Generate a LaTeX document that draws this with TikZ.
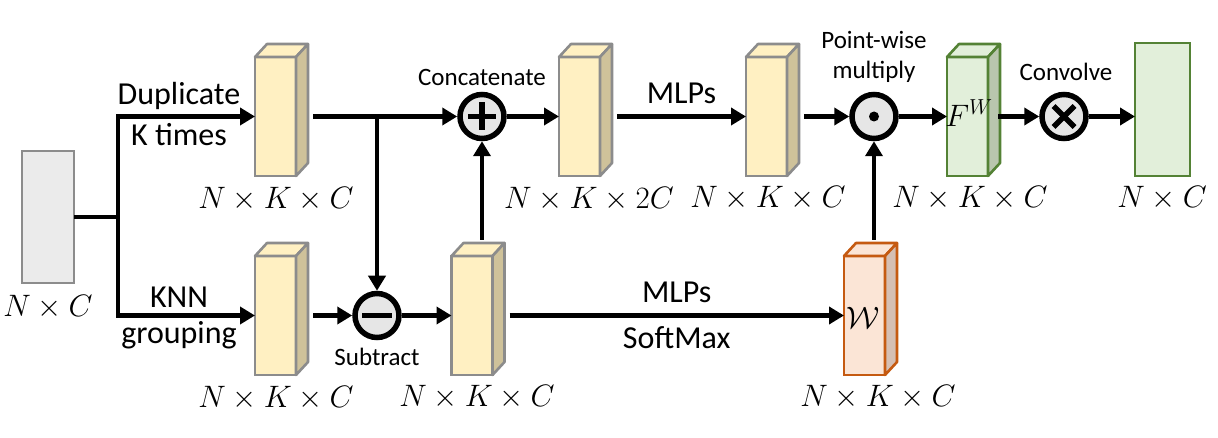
\documentclass[tikz,border=0pt]{standalone}
\usepackage{fix-cm}
\usepackage{fontspec}
\setmainfont{Carlito}
\usetikzlibrary{arrows.meta}
\definecolor{yfront}{HTML}{FFF0C2}
\definecolor{yside}{HTML}{CFC29A}
\definecolor{gstroke}{HTML}{8C8C8C}
\definecolor{infill}{HTML}{EBEBEB}
\definecolor{ofront}{HTML}{FBE5D6}
\definecolor{oside}{HTML}{D5BFB3}
\definecolor{ostroke}{HTML}{C55A11}
\definecolor{gfront}{HTML}{E2EFDA}
\definecolor{gside}{HTML}{B9C6AE}
\definecolor{grstroke}{HTML}{548235}
\definecolor{opfill}{HTML}{E6E6E6}
\tikzset{
  ln/.style={line width=4.5pt},
  arr/.style={ln,-{Triangle[length=15pt,width=17pt]}},
  face/.style={draw=#1, line width=2.6pt, minimum width=41pt, minimum height=119pt, inner sep=0pt, outer sep=0pt},
  op/.style={circle, draw=black, line width=5.5pt, fill=opfill, minimum size=44pt, inner sep=0pt},
  txt/.style={font=\fontsize{32}{38}\selectfont, inner sep=0pt},
  small/.style={font=\fontsize{25}{30}\selectfont, inner sep=0pt},
  dim/.style={font=\fontsize{31}{37}\selectfont, inner sep=0pt},
  sym/.style={line width=5.5pt},
}
\newcommand{\cuboid}[6]{%
  \node[face=#6, fill=#4] (#1) at (#2,#3) {};
  \filldraw[draw=#6, fill=#4, line width=2.6pt, line join=round] (#1.north west) -- ++(12,-13) -- ++(41,0) -- (#1.north east) -- cycle;
  \filldraw[draw=#6, fill=#5, line width=2.6pt, line join=round] (#1.north east) -- ++(12,-13) -- ++(0,119) -- (#1.south east) -- cycle;
}
\begin{document}
\begin{tikzpicture}[x=1pt,y=-1pt]
\useasboundingbox (0,0) rectangle (1218,438);
% input
\node[draw=gstroke, fill=infill, line width=2.6pt, minimum width=52pt, minimum height=132pt, inner sep=0pt, outer sep=0pt] (in) at (48,217) {};
\node[dim] (inl) at (48,307) {$N\times C$};
% cuboids
\cuboid{B1}{275.5}{116.5}{yfront}{yside}{gstroke}
\cuboid{B2}{275.5}{315.5}{yfront}{yside}{gstroke}
\cuboid{B3}{472}{315.5}{yfront}{yside}{gstroke}
\cuboid{B4}{579.5}{116.5}{yfront}{yside}{gstroke}
\cuboid{B5}{766.5}{116.5}{yfront}{yside}{gstroke}
\cuboid{BW}{864.5}{315.5}{ofront}{oside}{ostroke}
\cuboid{BF}{967.5}{116.5}{gfront}{gside}{grstroke}
\node[draw=grstroke, fill=gfront, line width=2.6pt, minimum width=55pt, minimum height=133pt, inner sep=0pt, outer sep=0pt] (fin) at (1162.5,109.5) {};
% inner labels
\node[dim] (fw) at (969,113) {$F^{W}$};
\node[dim] (ww) at (863,318) {$\mathcal{W}$};
% operators
\node[op] (cat) at (482,116.5) {};
\node[op] (sub) at (377,315.5) {};
\node[op] (mul) at (874,116.5) {};
\node[op] (conv) at (1064,116.5) {};
\draw[sym] (cat.center) ++(-14,0) -- ++(28,0);
\draw[sym] (cat.center) ++(0,-14) -- ++(0,28);
\draw[sym] (sub.center) ++(-15,0) -- ++(30,0);
\fill (mul.center) circle (5);
\draw[sym] (conv.center) ++(-10.5,-10.5) -- ++(21,21);
\draw[sym] (conv.center) ++(10.5,-10.5) -- ++(-21,21);
% connectors
\coordinate (j) at (118,217);
\draw[ln] (in.east) -- (j);
\draw[arr] (j) |- (B1.west);
\draw[arr] (j) |- (B2.west);
\coordinate (s) at (377,116.5);
\draw[arr] ([xshift=17pt]B1.east) -- (cat.west);
\draw[arr] (s) -- (sub.north);
\draw[arr] ([xshift=17pt]B2.east) -- (sub.west);
\draw[arr] (sub.east) -- (B3.west);
\draw[arr] (B3.north -| cat) ++(0,-16) -- (cat.south);
\draw[arr] (cat.east) -- (B4.west);
\draw[arr] ([xshift=17pt]B4.east) -- node[txt, above=11pt] {MLPs} (B5.west);
\draw[arr] ([xshift=17pt]B5.east) -- (mul.west);
\draw[arr] ([xshift=17pt]B3.east) -- node[txt, above=11pt] {MLPs} node[txt, below=9pt] {SoftMax} (BW.west);
\draw[arr] (BW.north -| mul) ++(0,-16) -- (mul.south);
\draw[arr] (mul.east) -- (BF.west);
\draw[arr] ([xshift=10pt]BF.east) -- (conv.west);
\draw[arr] (conv.east) -- (conv.east -| fin.west);
% text labels
\node[txt] at (179,96) {Duplicate};
\node[txt] at (179,135) {K times};
\node[txt] at (179,297) {KNN};
\node[txt] at (179,335) {grouping};
\node[small] at (482,77) {Concatenate};
\node[small] at (377,357) {Subtract};
\node[small] at (874,40) {Point-wise};
\node[small] at (874,72) {multiply};
\node[small] at (1066,72) {Convolve};
% dims
\node[dim] at (276,199) {$N\times K\times C$};
\node[dim] at (276,398) {$N\times K\times C$};
\node[dim] at (477,397) {$N\times K\times C$};
\node[dim] at (589,199) {$N\times K\times 2C$};
\node[dim] at (768,198) {$N\times K\times C$};
\node[dim] at (878,397) {$N\times K\times C$};
\node[dim] at (970,198) {$N\times K\times C$};
\node[dim] at (1162,198) {$N\times C$};
\end{tikzpicture}
\end{document}
